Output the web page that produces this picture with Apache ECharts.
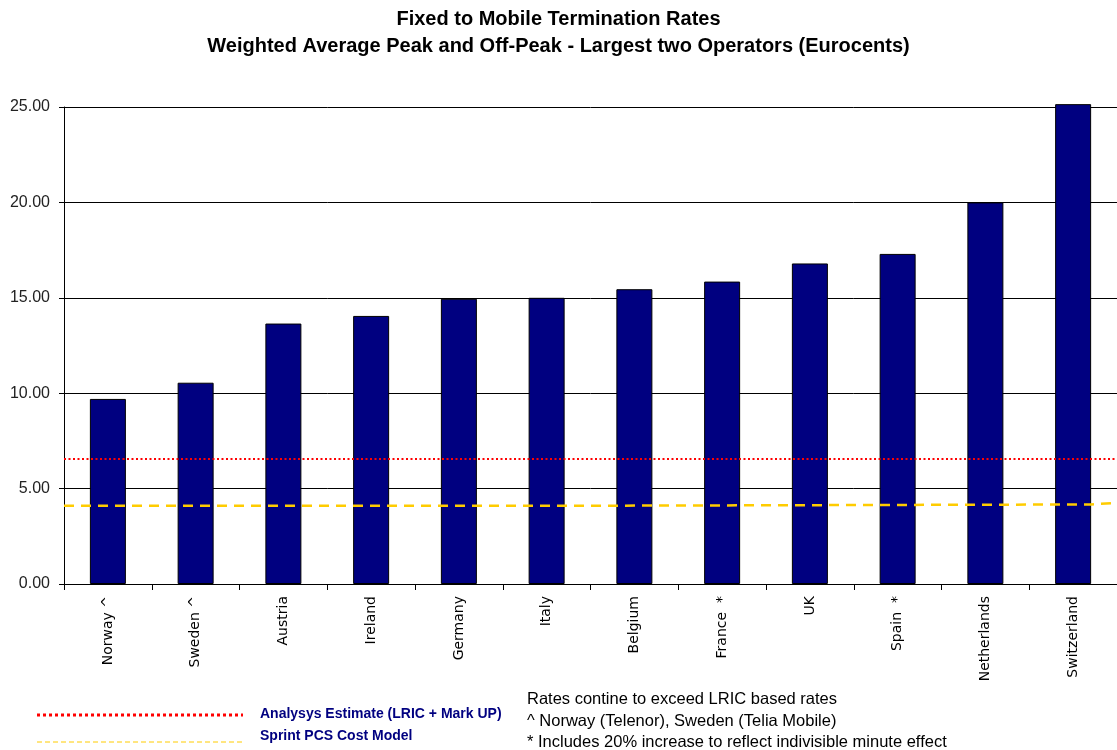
<!DOCTYPE html>
<html>
<head>
<meta charset="utf-8">
<script src="https://cdn.jsdelivr.net/npm/echarts@6/dist/echarts.min.js"></script>
<style>
  html, body { margin: 0; padding: 0; background: #fff; }
  #chart { width: 1117px; height: 750px; }
</style>
</head>
<body>
<div id="chart"></div>
<script>
// Fixed-to-mobile termination rates by country (Eurocents)
const countries = ['Norway ^', 'Sweden ^', 'Austria', 'Ireland', 'Germany', 'Italy',
  'Belgium', 'France  *', 'UK', 'Spain  *', 'Netherlands', 'Switzerland'];
const rates = [9.70, 10.55, 13.65, 14.05, 14.95, 15.00, 15.45, 15.85, 16.80, 17.30, 20.00, 25.15];

// Benchmark levels, given as [position along the category span, value]
const lricEstimate = [[0, 6.55], [12, 6.55]];
const sprintCostModel = [[0, 4.10], [5.85, 4.10], [5.85, 4.17], [11.7, 4.17], [11.7, 4.25], [12, 4.25]];

const yTicks = { min: 0, max: 25, interval: 5 };

const titleLines = ['Fixed to Mobile Termination Rates',
  'Weighted Average Peak and Off-Peak - Largest two Operators (Eurocents)'];
const legendNames = ['Analysys Estimate (LRIC + Mark UP)', 'Sprint PCS Cost Model'];
const notes = ['Rates contine to exceed LRIC based rates',
  '^ Norway (Telenor), Sweden (Telia Mobile)',
  '* Includes 20% increase to reflect indivisible minute effect'];

const FONT = '"Liberation Sans", Arial, sans-serif';
const chart = echarts.init(document.getElementById('chart'), null, { renderer: 'canvas' });

chart.setOption({
  backgroundColor: '#ffffff',
  animation: false,
  title: {
    text: titleLines.join('\n'),
    left: 'center',
    top: 1,
    textStyle: { fontFamily: FONT, fontSize: 20, fontWeight: 'bold', color: '#000', lineHeight: 27 }
  },
  grid: { left: 64, top: 107, width: 1056, bottom: 166, containLabel: false },
  xAxis: [
    {
      type: 'category',
      data: countries,
      axisLine: { lineStyle: { color: '#000', width: 1 } },
      axisTick: { show: true, length: 6, alignWithLabel: false, lineStyle: { color: '#000' } },
      axisLabel: {
        rotate: 90, margin: 12, interval: 0,
        fontFamily: '"DejaVu Sans", sans-serif', fontSize: 14, color: '#000'
      },
      splitLine: { show: false }
    },
    {
      type: 'value', min: 0, max: 12, show: false
    }
  ],
  yAxis: {
    type: 'value',
    min: yTicks.min, max: yTicks.max, interval: yTicks.interval,
    axisLine: { show: true, lineStyle: { color: '#000', width: 1 } },
    axisTick: { show: true, length: 5, lineStyle: { color: '#000' } },
    axisLabel: {
      margin: 14, fontFamily: FONT, fontSize: 16, color: '#222',
      formatter: v => v.toFixed(2)
    },
    splitLine: { show: true, lineStyle: { color: '#000', width: 1 } }
  },
  series: [
    {
      type: 'bar',
      data: rates,
      barWidth: 36,
      clip: false,
      itemStyle: { color: '#000080', borderColor: '#000', borderWidth: 1 },
      z: 2
    },
    {
      type: 'line',
      xAxisIndex: 1,
      data: lricEstimate,
      symbol: 'none',
      lineStyle: { color: '#ff0000', width: 2, type: [2, 2.5] },
      z: 3
    },
    {
      type: 'line',
      xAxisIndex: 1,
      data: sprintCostModel,
      symbol: 'none',
      lineStyle: { color: '#ffcc00', width: 2.5, type: [10, 7] },
      z: 3
    }
  ],
  graphic: [
    { type: 'line', shape: { x1: 37, y1: 715, x2: 243, y2: 715 },
      style: { stroke: '#ff0000', lineWidth: 3, lineDash: [3, 3] } },
    { type: 'text', left: 260, top: 707,
      style: { text: legendNames[0], font: 'bold 14px ' + FONT, fill: '#000080' } },
    { type: 'line', shape: { x1: 37, y1: 742, x2: 243, y2: 742 },
      style: { stroke: '#ffcc00', lineWidth: 1, lineDash: [5, 3] } },
    { type: 'text', left: 260, top: 729,
      style: { text: legendNames[1], font: 'bold 14px ' + FONT, fill: '#000080' } },
    { type: 'text', left: 527, top: 689,
      style: { text: notes.join('\n'), font: '16.5px ' + FONT, fill: '#000', lineHeight: 21.5 } }
  ]
});
</script>
</body>
</html>
